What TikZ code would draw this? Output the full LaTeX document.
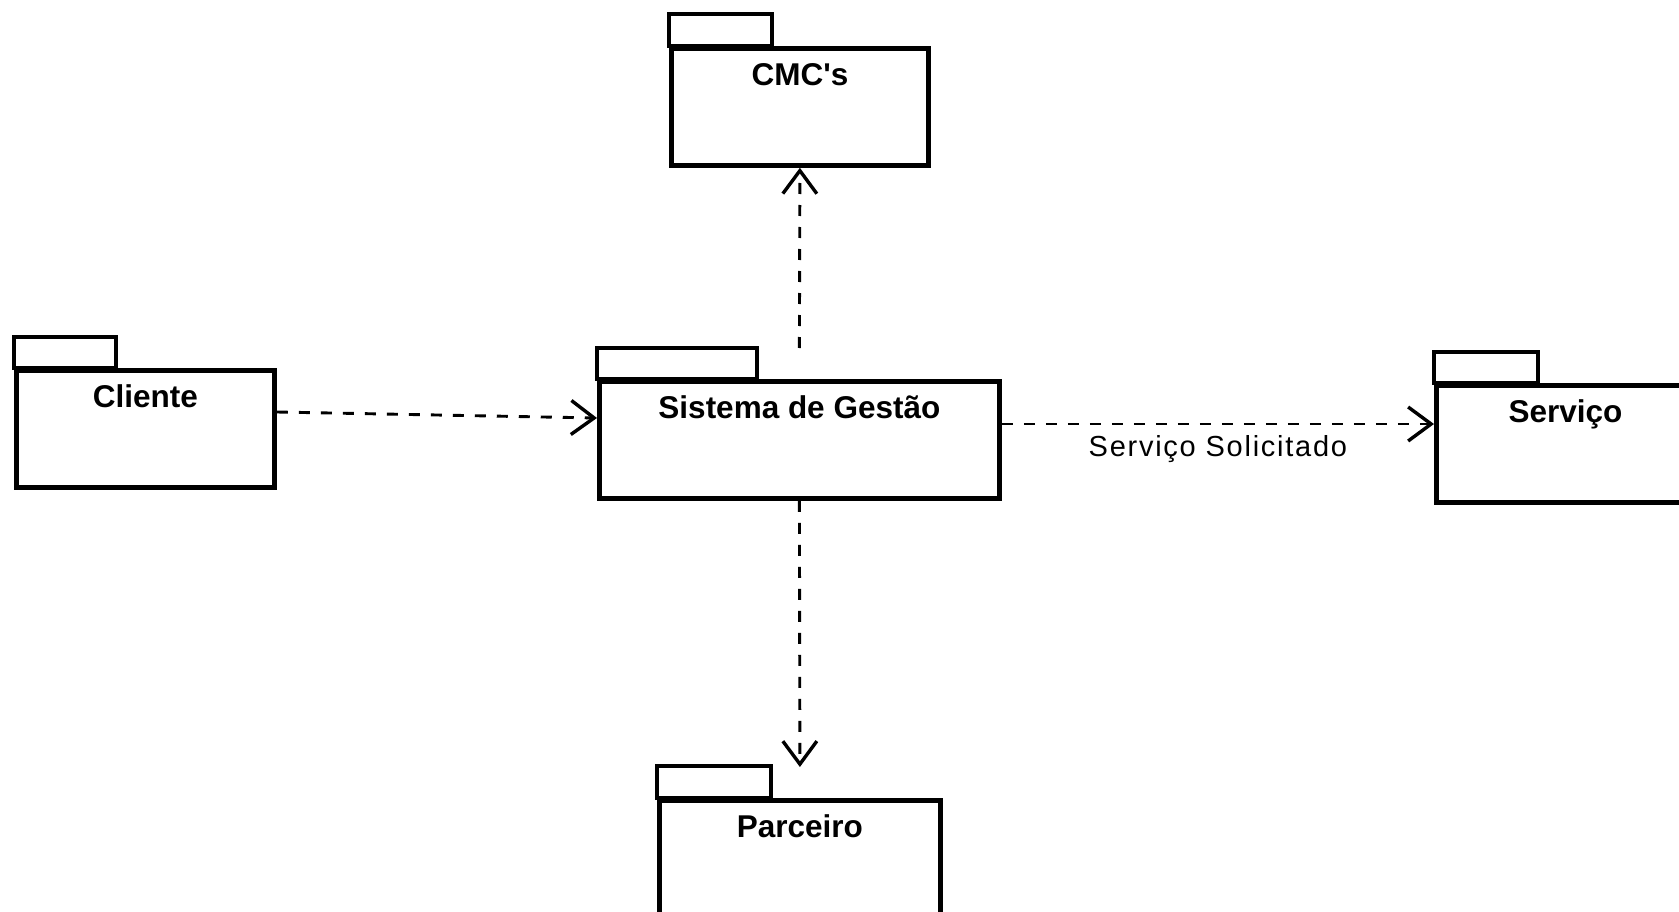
\documentclass[tikz,border=0pt]{standalone}
\usepackage{fontspec}
\setmainfont{Liberation Sans}
\newfontfamily\pkgfont{Liberation Sans}
\newfontfamily\edgefont[LetterSpace=6]{Liberation Sans}
\usetikzlibrary{arrows.meta,calc}

\begin{document}
\begin{tikzpicture}[x=1pt,y=-1pt,
  pkgbody/.style={draw, line width=4.8pt, anchor=north west,
    inner xsep=0pt, inner ysep=10pt, text height=27pt, text depth=70pt,
    minimum height=117pt,
    font=\pkgfont\fontsize{31.5}{31.5}\selectfont\bfseries},
  pkgtab/.style={draw, line width=4.8pt},
  dep/.style={line width=2.9pt, dash pattern=on 11pt off 11pt,
    -{Straight Barb[length=23pt,width=34pt,line width=3.4pt]}},
  deplabel/.style={font=\edgefont\fontsize{29}{29}\selectfont, anchor=base}
]
\useasboundingbox (0,0) rectangle (1679,912);
\clip (0,0) rectangle (1679,912);

% package bodies
\node[pkgbody, minimum width=257pt] (cmc) at (669,46)  {CMC's};
\node[pkgbody, minimum width=258pt] (cli) at (14,368)  {Cliente};
\node[pkgbody, minimum width=400pt] (sis) at (597,379) {Sistema de Gestão};
\node[pkgbody, minimum width=258pt] (srv) at (1434,383) {Serviço};
\node[pkgbody, minimum width=281pt] (prc) at (657,798) {Parceiro};

% package tabs
\draw[pkgtab] (cmc.north west) rectangle ++(103,-32);
\draw[pkgtab] (cli.north west) rectangle ++(102,-31);
\draw[pkgtab] (sis.north west) rectangle ++(160,-31);
\draw[pkgtab] (srv.north west) rectangle ++(104,-31);
\draw[pkgtab] (prc.north west) rectangle ++(114,-32);

% dependencies
\draw[dep] ($(cli.north east)+(0,44)$) -- ($(sis.north west)+(0,39)$);
\draw[dep] ($(sis.north)+(0,-31)$) -- (cmc.south);
\draw[dep] (sis.south) -- ($(prc.north)+(0,-31)$);
\draw[dep] ($(sis.north east)+(0,45)$) --
  node[deplabel, pos=0.5, yshift=-32pt] {Serviço Solicitado}
  ($(srv.north west)+(0,41)$);
\end{tikzpicture}
\end{document}
